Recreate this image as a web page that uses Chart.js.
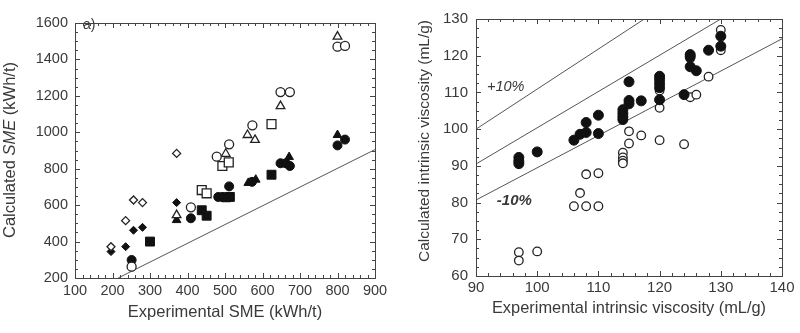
<!DOCTYPE html>
<html>
<head>
<meta charset="utf-8">
<script src="https://cdn.jsdelivr.net/npm/chart.js@4.4.0/dist/chart.umd.min.js"></script>
<style>
  body { margin: 0; background: #fff; }
  .panel { position: absolute; top: 0; width: 400px; height: 333px; }
</style>
</head>
<body>
<div class="panel" style="left:0"><canvas id="sme" width="400" height="333"></canvas></div>
<div class="panel" style="left:400px"><canvas id="visc" width="400" height="333"></canvas></div>
<script>
// ---------- panel a) : SME, experimental vs calculated (kWh/t) ----------
const smeOpenDiamond   = [[196,372],[235,515],[256,628],[280,614],[371,884]];
const smeFilledDiamond = [[196,345],[235,372],[256,462],[280,478],[371,614]];
const smeOpenCircle    = [[251,262],[409,588],[478,866],[511,934],[573,1038],[648,1221],[673,1221],[800,1470],[820,1474]];
const smeFilledCircle  = [[251,299],[409,528],[482,645],[493,645],[511,703],[572,728],[648,830],[662,830],[673,815],[800,928],[820,960]];
const smeOpenTriangle  = [[371,545],[502,882],[560,985],[580,958],[648,1144],[800,1525]];
const smeFilledTriangle= [[371,518],[562,722],[582,740],[671,864],[800,985]];
const smeOpenSquare    = [[438,683],[451,665],[493,815],[510,835],[624,1045]];
const smeFilledSquare  = [[300,400],[438,572],[451,542],[503,643],[513,645],[624,767]];
const smeParity = [[215,200],[900,905]];
const smeXRange = [100, 900], smeXStep = 100, smeXMinor = 20;
const smeYRange = [200, 1600], smeYStep = 200, smeYMinor = 50;

// ---------- panel b) : intrinsic viscosity (mL/g) ----------
const viscFilled = [[97,92.3],[97,91.3],[97,90.6],[100,93.8],[106,97],[107,98.6],[108,99.1],[108,101.8],
  [110,103.8],[110,98.8],[114,105.3],[114,104.3],[114,103.4],[114,102.6],[115,112.9],[115,107.8],[115,106.9],
  [117,107.7],[120,114.4],[120,113.5],[120,112.4],[120,111.3],[120,108],[124,109.4],[125,120.3],[125,119.7],
  [125,117],[126,115.9],[128,121.5],[130,125.3],[130,122.6]];
const viscOpen = [[97,66.5],[97,64.2],[100,66.7],[106,79],[107,82.6],[108,87.7],[108,79],[110,88],[110,79],
  [114,93.6],[114,92.3],[114,91.4],[114,90.7],[115,99.4],[115,96.1],[117,98.3],[120,105.8],[120,110.5],[120,97],
  [124,95.9],[125,108.7],[125,119.3],[126,109.4],[128,114.3],[130,127],[130,121.5]];
const viscPlus10  = [[90,100],[117.5,130]];
const viscParity  = [[90,90.5],[130,130]];
const viscMinus10 = [[90,80.7],[140,124.6]];
const viscXRange = [90, 140], viscXStep = 10, viscXMinor = 2;
const viscYRange = [60, 130], viscYStep = 10, viscYMinor = 2.5;

const ink = '#3a3a3a';
const fam = '"Liberation Sans", Arial, sans-serif';
Chart.defaults.font.family = fam;
Chart.defaults.color = ink;

const pts = arr => arr.map(p => ({ x: p[0], y: p[1] }));

function marker(data, style, filled, r) {
  return {
    data: pts(data), pointStyle: style, pointRadius: r, pointHoverRadius: r,
    backgroundColor: filled ? '#111' : '#fff', borderColor: filled ? '#111' : '#222',
    borderWidth: filled ? 1 : 1.3
  };
}
function refLine(data) {
  return { data: pts(data), showLine: true, pointRadius: 0, borderColor: '#555', borderWidth: 1, fill: false };
}

// box frame + inward ticks + free text
const frame = {
  id: 'frame',
  afterDatasetsDraw(chart, args, o) {
    const { ctx, chartArea: a, scales: { x, y } } = chart;
    ctx.save();
    ctx.strokeStyle = '#444';
    ctx.lineWidth = 1;
    ctx.strokeRect(Math.round(a.left) + 0.5, Math.round(a.top) + 0.5, Math.round(a.width), Math.round(a.height));
    ctx.beginPath();
    const nx = Math.round((x.max - x.min) / o.xMinor);
    for (let i = 0; i <= nx; i++) {
      const v = x.min + i * o.xMinor;
      const px = Math.round(x.getPixelForValue(v)) + 0.5;
      const len = (i * o.xMinor) % o.xMajor < 1e-6 ? 5 : 3;
      ctx.moveTo(px, a.bottom); ctx.lineTo(px, a.bottom - len);
      ctx.moveTo(px, a.top); ctx.lineTo(px, a.top + len);
    }
    const ny = Math.round((y.max - y.min) / o.yMinor);
    for (let i = 0; i <= ny; i++) {
      const v = y.min + i * o.yMinor;
      const py = Math.round(y.getPixelForValue(v)) + 0.5;
      const len = (i * o.yMinor) % o.yMajor < 1e-6 ? 5 : 3;
      ctx.moveTo(a.left, py); ctx.lineTo(a.left + len, py);
      ctx.moveTo(a.right, py); ctx.lineTo(a.right - len, py);
    }
    ctx.stroke();

    ctx.fillStyle = ink;
    ctx.textBaseline = 'alphabetic';
    (o.labels || []).forEach(l => {
      ctx.font = l.font + ' ' + fam;
      ctx.textAlign = 'left';
      ctx.fillText(l.text, x.getPixelForValue(l.x), y.getPixelForValue(l.y));
    });

    // rotated y title, parts can be italic
    const t = o.yTitle;
    ctx.translate(t.x, t.y);
    ctx.rotate(-Math.PI / 2);
    let w = 0;
    t.parts.forEach(p => { ctx.font = (p.italic ? 'italic ' : '') + t.size + 'px ' + fam; w += ctx.measureText(p.text).width; });
    let cx = -w / 2;
    t.parts.forEach(p => {
      ctx.font = (p.italic ? 'italic ' : '') + t.size + 'px ' + fam;
      ctx.fillText(p.text, cx, 0);
      cx += ctx.measureText(p.text).width;
    });
    ctx.restore();
  }
};

function axis(range, step, tickSize, pad, extra) {
  return Object.assign({
    type: 'linear', min: range[0], max: range[1],
    ticks: { stepSize: step, padding: pad, color: ink, font: { size: tickSize }, callback: v => String(v) },
    grid: { display: false, drawTicks: false },
    border: { display: false }
  }, extra);
}

new Chart(document.getElementById('sme'), {
  type: 'scatter',
  data: {
    datasets: [
      marker(smeOpenCircle, 'circle', false, 4.5),
      marker(smeOpenTriangle, 'triangle', false, 5),
      marker(smeOpenSquare, 'rect', false, 6.3),
      marker(smeOpenDiamond, 'rectRot', false, 4),
      marker(smeFilledCircle, 'circle', true, 4.5),
      marker(smeFilledTriangle, 'triangle', true, 5),
      marker(smeFilledSquare, 'rect', true, 6.3),
      marker(smeFilledDiamond, 'rectRot', true, 4),
      refLine(smeParity)
    ]
  },
  options: {
    responsive: false,
    animation: false,
    layout: { padding: { top: 23, right: 25, left: 0, bottom: 0 } },
    plugins: {
      legend: { display: false },
      tooltip: { enabled: false },
      frame: {
        xMajor: smeXStep, xMinor: smeXMinor, yMajor: smeYStep, yMinor: smeYMinor,
        labels: [{ text: 'a)', x: 121, y: 1567, font: '14px' }],
        yTitle: { x: 15, y: 150, size: 16.5, parts: [{ text: 'Calculated ' }, { text: 'SME', italic: true }, { text: ' (kWh/t)' }] }
      }
    },
    scales: {
      x: axis(smeXRange, smeXStep, 14.5, 4, {
        title: { display: true, text: 'Experimental SME (kWh/t)', color: ink, font: { size: 16.5 }, padding: { top: 0, bottom: 11 } },
        afterFit: s => { s.height = 55; }
      }),
      y: axis(smeYRange, smeYStep, 14.5, 7, { afterFit: s => { s.width = 75; } })
    }
  },
  plugins: [frame]
});

new Chart(document.getElementById('visc'), {
  type: 'scatter',
  data: {
    datasets: [
      marker(viscFilled, 'circle', true, 5),
      marker(viscOpen, 'circle', false, 4.3),
      refLine(viscPlus10),
      refLine(viscParity),
      refLine(viscMinus10)
    ]
  },
  options: {
    responsive: false,
    animation: false,
    layout: { padding: { top: 19, right: 18, left: 0, bottom: 0 } },
    plugins: {
      legend: { display: false },
      tooltip: { enabled: false },
      frame: {
        xMajor: viscXStep, xMinor: viscXMinor, yMajor: viscYStep, yMinor: viscYMinor,
        labels: [
          { text: '+10%', x: 91.8, y: 110.4, font: 'italic 14.5px' },
          { text: '-10%', x: 93.4, y: 79.3, font: 'italic bold 15px' }
        ],
        yTitle: { x: 29, y: 141, size: 15.5, parts: [{ text: 'Calculated intrinsic viscosity (mL/g)' }] }
      }
    },
    scales: {
      x: axis(viscXRange, viscXStep, 15, 3, {
        title: { display: true, text: 'Experimental intrinsic viscosity (mL/g)', color: ink, font: { size: 16.4 }, padding: { top: 0, bottom: 15 } },
        afterFit: s => { s.height = 57; }
      }),
      y: axis(viscYRange, viscYStep, 15, 8, { afterFit: s => { s.width = 76; } })
    }
  },
  plugins: [frame]
});
</script>
</body>
</html>
